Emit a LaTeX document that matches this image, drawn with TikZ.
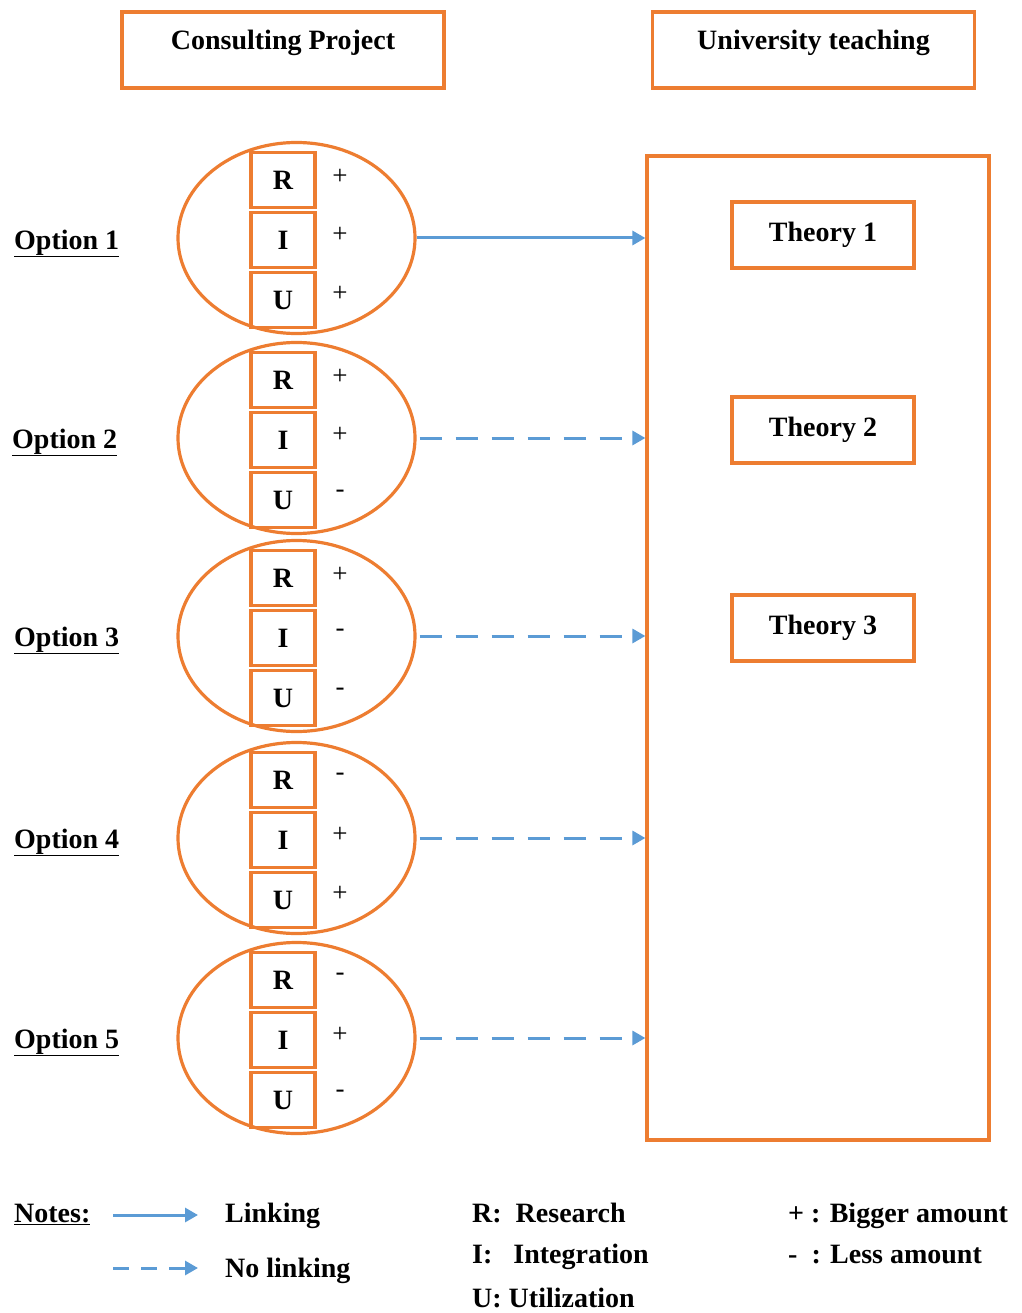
\documentclass[tikz,border=0pt]{standalone}
\usepackage{fontspec}
\setmainfont{Liberation Serif}
\usetikzlibrary{shapes.geometric,arrows.meta}
\definecolor{orng}{HTML}{ED7D31}
\definecolor{blu}{HTML}{5B9BD5}
\begin{document}
\begin{tikzpicture}[x=1pt,y=-1pt,
  every node/.style={font=\fontsize{28}{32}\selectfont\bfseries},
  obox/.style={draw=orng,line width=3.2pt,rectangle,inner sep=0pt},
  headbox/.style={obox,minimum width=322pt,minimum height=76pt,text height=20pt,text depth=20pt},
  thbox/.style={obox,minimum width=182pt,minimum height=66pt},
  letbox/.style={obox,minimum width=64pt,minimum height=55pt},
  oval/.style={draw=orng,line width=3.2pt,ellipse,minimum width=237pt,minimum height=191pt,inner sep=0pt},
  sgn/.style={font=\fontsize{27}{28}\selectfont},
  optlab/.style={anchor=mid west,inner sep=0pt},
  lnk/.style={draw=blu,line width=3pt,-{Triangle[length=13pt,width=14pt]}},
  nolnk/.style={lnk,dash pattern=on 22pt off 14pt},
  legtxt/.style={anchor=mid west,inner sep=0pt}]
\useasboundingbox (0,0) rectangle (1021,1313);

% headers
\node[headbox] (cp) at (283,50) {Consulting Project};
\node[headbox] (ut) at (813.5,50) {University teaching};

% university box
\node[obox,minimum width=342pt,minimum height=984pt] (big) at (818,648) {};
\node[thbox] (t1) at (823,235) {Theory 1};
\node[thbox] (t2) at (823,430) {Theory 2};
\node[thbox] (t3) at (823,628) {Theory 3};

% options
\foreach \i/\yy/\sr/\si/\su in {1/238/+/+/+, 2/438/+/+/-, 3/636/+/-/-, 4/838/-/+/+, 5/1038/-/+/-}{
  \node[oval] (e\i) at (296.5,\yy) {};
  \node[letbox] (r\i) at (283,\yy-58) {R};
  \node[letbox] (i\i) at (283,\yy+2) {I};
  \node[letbox] (u\i) at (283,\yy+62) {U};
  \node[sgn] (sr\i) at (340,\yy-61) {\sr};
  \node[sgn] (si\i) at (340,\yy-3) {\si};
  \node[sgn] (su\i) at (340,\yy+56) {\su};
}
\node[optlab] (o1) at (14,247) {\underline{Option 1}};
\node[optlab] (o2) at (12,446) {\underline{Option 2}};
\node[optlab] (o3) at (14,644) {\underline{Option 3}};
\node[optlab] (o4) at (14,846) {\underline{Option 4}};
\node[optlab] (o5) at (14,1046) {\underline{Option 5}};

% connectors
\draw[lnk] (e1.east) -- (e1.east -| big.west);
\draw[nolnk] ([xshift=3pt]e2.east) -- (e2.east -| big.west);
\draw[nolnk] ([xshift=3pt]e3.east) -- (e3.east -| big.west);
\draw[nolnk] ([xshift=3pt]e4.east) -- (e4.east -| big.west);
\draw[nolnk] ([xshift=3pt]e5.east) -- (e5.east -| big.west);

% legend
\node[legtxt] (notes) at (14,1220) {\underline{Notes:}};
\coordinate (la1) at (113,1215);
\coordinate (la2) at (198,1215);
\coordinate (lb1) at (113,1268);
\coordinate (lb2) at (198,1268);
\draw[lnk] (la1) -- (la2);
\draw[lnk,dash pattern=on 16pt off 12pt] (lb1) -- (lb2);
\node[legtxt] (l1) at (225,1220) {Linking};
\node[legtxt] (l2) at (225,1275) {No linking};
\node[legtxt] (kr) at (472,1220) {R:\ \ Research};
\node[legtxt] (ki) at (472,1261) {I:\ \ \ Integration};
\node[legtxt] (ku) at (472,1305) {U: Utilization};
\node[legtxt] (kp) at (788,1220) {+ : Bigger amount};
\node[legtxt] (km) at (788,1261) {-\ \ : Less amount};
\end{tikzpicture}
\end{document}
